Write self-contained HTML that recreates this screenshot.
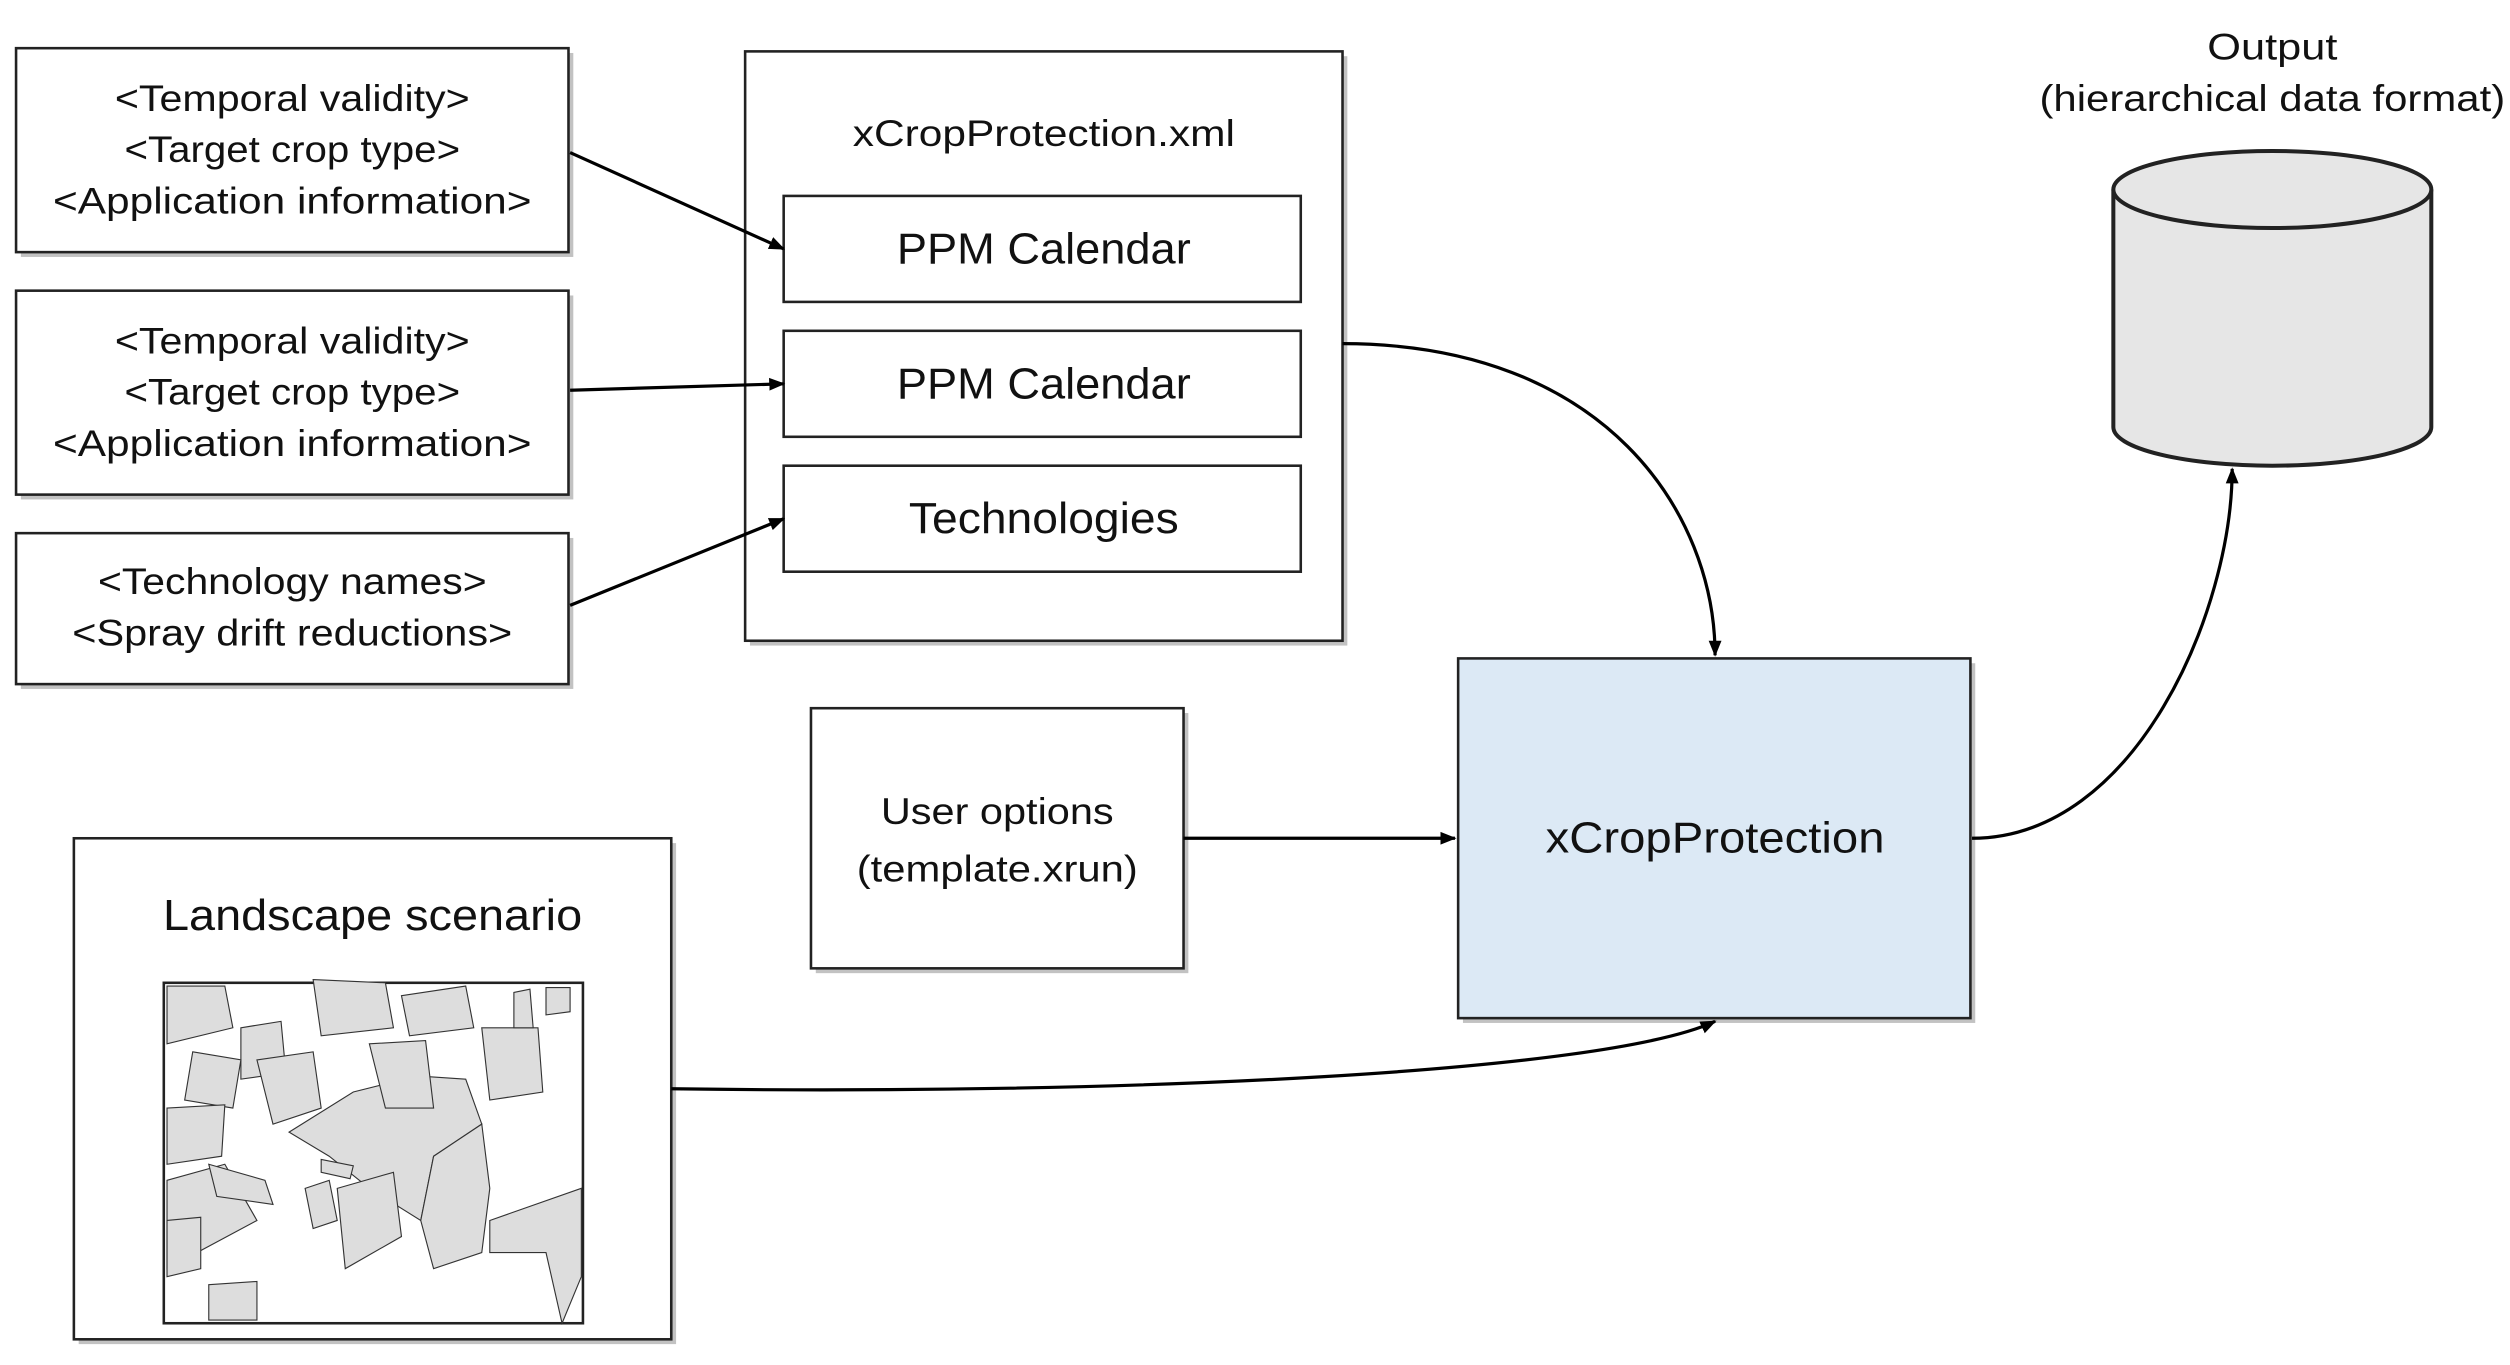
<!DOCTYPE html>
<html><head><meta charset="utf-8"><style>
html,body{margin:0;padding:0;background:#fff;}
svg{display:block;}
text{font-family:"Liberation Sans",sans-serif;fill:#111;}
</style></head><body>
<svg width="2510" height="1365" viewBox="0 0 1563 850" xmlns="http://www.w3.org/2000/svg">
<defs>
<marker id="ah" markerWidth="10" markerHeight="10" refX="9" refY="5" orient="auto" markerUnits="userSpaceOnUse">
<path d="M0,1 L10,5 L0,9 z" fill="#000"/></marker>
</defs>
<g fill="#999" opacity="0.6">
<rect x="13" y="33" width="344" height="127"/>
<rect x="13" y="184" width="344" height="127"/>
<rect x="13" y="335" width="344" height="94"/>
<rect x="467" y="35" width="372" height="367"/>
<rect x="508" y="444" width="232" height="162"/>
<rect x="911" y="413" width="319" height="224"/>
<rect x="49" y="525" width="372" height="312"/>
</g>
<g fill="#fff" stroke="#222" stroke-width="1.6">
<rect x="10" y="30" width="344" height="127"/>
<rect x="10" y="181" width="344" height="127"/>
<rect x="10" y="332" width="344" height="94"/>
<rect x="464" y="32" width="372" height="367"/>
<rect x="488" y="122" width="322" height="66"/>
<rect x="488" y="206" width="322" height="66"/>
<rect x="488" y="290" width="322" height="66"/>
<rect x="505" y="441" width="232" height="162"/>
<rect x="908" y="410" width="319" height="224" fill="#dce9f5"/>
<rect x="46" y="522" width="372" height="312"/>
<rect x="102" y="612" width="261" height="212"/>
</g>
<g font-size="23" text-anchor="middle" lengthAdjust="spacingAndGlyphs">
<text x="182" y="69" textLength="221" lengthAdjust="spacingAndGlyphs">&lt;Temporal validity&gt;</text>
<text x="182" y="101" textLength="209" lengthAdjust="spacingAndGlyphs">&lt;Target crop type&gt;</text>
<text x="182" y="133" textLength="298" lengthAdjust="spacingAndGlyphs">&lt;Application information&gt;</text>
<text x="182" y="220" textLength="221" lengthAdjust="spacingAndGlyphs">&lt;Temporal validity&gt;</text>
<text x="182" y="252" textLength="209" lengthAdjust="spacingAndGlyphs">&lt;Target crop type&gt;</text>
<text x="182" y="284" textLength="298" lengthAdjust="spacingAndGlyphs">&lt;Application information&gt;</text>
<text x="182" y="370" textLength="242" lengthAdjust="spacingAndGlyphs">&lt;Technology names&gt;</text>
<text x="182" y="402" textLength="274" lengthAdjust="spacingAndGlyphs">&lt;Spray drift reductions&gt;</text>
<text x="650" y="91" textLength="238" lengthAdjust="spacingAndGlyphs">xCropProtection.xml</text>
<text x="621" y="513" textLength="145" lengthAdjust="spacingAndGlyphs">User options</text>
<text x="621" y="549" textLength="175" lengthAdjust="spacingAndGlyphs">(template.xrun)</text>
<text x="1415" y="37" textLength="81" lengthAdjust="spacingAndGlyphs">Output</text>
<text x="1415" y="69" textLength="290" lengthAdjust="spacingAndGlyphs">(hierarchical data format)</text>
</g>
<g font-size="27" text-anchor="middle">
<text x="650" y="164" textLength="183" lengthAdjust="spacingAndGlyphs">PPM Calendar</text>
<text x="650" y="248" textLength="183" lengthAdjust="spacingAndGlyphs">PPM Calendar</text>
<text x="650" y="332" textLength="168" lengthAdjust="spacingAndGlyphs">Technologies</text>
<text x="1068" y="531" textLength="211" lengthAdjust="spacingAndGlyphs">xCropProtection</text>
<text x="232" y="579" textLength="261" lengthAdjust="spacingAndGlyphs">Landscape scenario</text>
</g>
<!-- cylinder -->
<path d="M1316,118 L1316,266 A99,24 0 0 0 1514,266 L1514,118" fill="#e6e6e6" stroke="#222" stroke-width="2.5"/>
<ellipse cx="1415" cy="118" rx="99" ry="24" fill="#e6e6e6" stroke="#222" stroke-width="2.5"/>
<!-- map -->
<g fill="#ddd" stroke="#333" stroke-width="0.7">
<path d="M104,614 L140,614 L145,640 L104,650z"/>
<path d="M150,640 L175,636 L178,668 L150,672z"/>
<path d="M120,655 L150,660 L145,690 L115,685z"/>
<path d="M104,690 L140,688 L138,720 L104,725z"/>
<path d="M180,705 L220,680 L260,670 L290,672 L300,700 L270,720 L262,760 L230,740 L205,720z"/>
<path d="M270,720 L300,700 L305,740 L300,780 L270,790 L262,760z"/>
<path d="M305,760 L362,740 L362,795 L350,824 L340,780 L305,780z"/>
<path d="M104,735 L140,725 L160,760 L104,790z"/>
<path d="M210,740 L245,730 L250,770 L215,790z"/>
<path d="M130,800 L160,798 L160,822 L130,822z"/>
<path d="M195,610 L240,612 L245,640 L200,645z"/>
<path d="M250,620 L290,614 L295,640 L255,645z"/>
<path d="M300,640 L335,640 L338,680 L305,685z"/>
<path d="M320,618 L330,616 L332,640 L320,640z"/>
<path d="M340,615 L355,615 L355,630 L340,632z"/>
<path d="M230,650 L265,648 L270,690 L240,690z"/>
<path d="M130,725 L165,735 L170,750 L135,745z"/>
<path d="M200,722 L220,726 L218,734 L200,730z"/>
<path d="M190,740 L205,735 L210,760 L195,765z"/>
<path d="M104,760 L125,758 L125,790 L104,795z"/>
<path d="M160,660 L195,655 L200,690 L170,700z"/>
</g>
<!-- connectors -->
<g fill="none" stroke="#000" stroke-width="2" marker-end="url(#ah)">
<path d="M355,95 L488,155"/>
<path d="M355,243 L488,239"/>
<path d="M355,377 L488,323"/>
<path d="M836,214 C1000,214 1068,320 1068,408"/>
<path d="M737,522 L906,522"/>
<path d="M418,678 C700,682 1000,668 1068,636"/>
<path d="M1228,522 C1330,522 1390,380 1390,292"/>
</g>
</svg>
</body></html>
